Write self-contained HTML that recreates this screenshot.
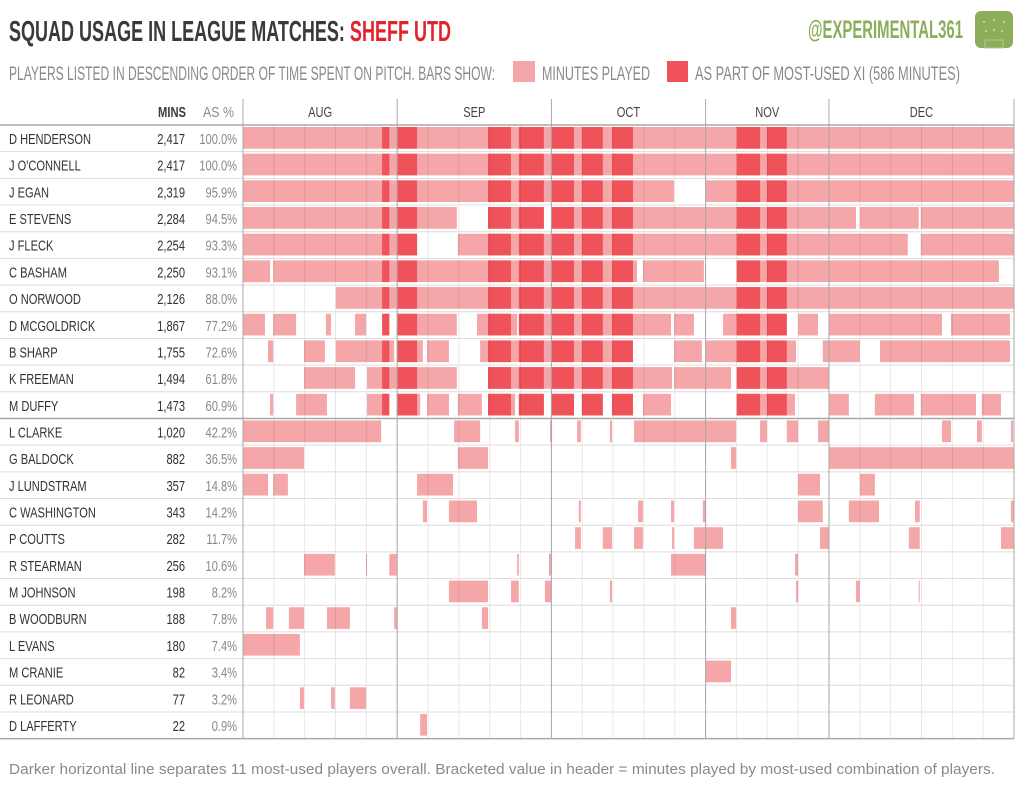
<!DOCTYPE html>
<html><head><meta charset="utf-8"><style>
html,body{margin:0;padding:0;background:#fff;width:1024px;height:789px;overflow:hidden}
svg text{font-family:"Liberation Sans Narrow","Liberation Sans",sans-serif}
</style></head><body>
<svg id="chart" width="1024" height="789" xmlns="http://www.w3.org/2000/svg">
<text x="9" y="41" font-size="29" font-weight="bold" fill="#3a3a3a" textLength="442" lengthAdjust="spacingAndGlyphs">SQUAD USAGE IN LEAGUE MATCHES: <tspan fill="#e3232c">SHEFF UTD</tspan></text>
<text x="9" y="80" font-size="19" fill="#8a8a8a" textLength="486" lengthAdjust="spacingAndGlyphs">PLAYERS LISTED IN DESCENDING ORDER OF TIME SPENT ON PITCH.  BARS SHOW:</text>
<rect x="513" y="61" width="22" height="21" fill="#f4a6a9"/>
<text x="542" y="80" font-size="19" fill="#8a8a8a" textLength="108" lengthAdjust="spacingAndGlyphs">MINUTES PLAYED</text>
<rect x="667" y="61" width="21" height="21" fill="#f0525a"/>
<text x="695" y="80" font-size="19" fill="#8a8a8a" textLength="265" lengthAdjust="spacingAndGlyphs">AS PART OF MOST-USED XI  (586 MINUTES)</text>
<text x="808" y="38" font-size="25" font-weight="bold" fill="#8cad5a" textLength="155" lengthAdjust="spacingAndGlyphs">@EXPERIMENTAL361</text>
<g>
<rect x="975" y="11" width="38" height="37" rx="6" fill="#8cad5a"/>
<rect x="985" y="40" width="18" height="8" fill="none" stroke="#b5cc8e" stroke-width="1"/>
<circle cx="984" cy="22" r="1" fill="#cfe0b0"/><circle cx="994" cy="20" r="1" fill="#cfe0b0"/><circle cx="1004" cy="22" r="1" fill="#cfe0b0"/>
<circle cx="986" cy="31" r="1" fill="#cfe0b0"/><circle cx="1002" cy="31" r="1" fill="#cfe0b0"/><circle cx="994" cy="30" r="1" fill="#cfe0b0"/>
</g>
<text x="158" y="117" font-size="15" font-weight="bold" fill="#3a3a3a" textLength="28" lengthAdjust="spacingAndGlyphs">MINS</text>
<text x="203" y="117" font-size="15" fill="#8a8a8a" textLength="31" lengthAdjust="spacingAndGlyphs">AS %</text>
<g id="bars"></g><g id="grid"></g><g id="labels"></g>
<text x="9" y="774" font-size="15" fill="#8a8a8a" textLength="986" lengthAdjust="spacingAndGlyphs">Darker horizontal line separates 11 most-used players overall.  Bracketed value in header = minutes played by most-used combination of players.</text>
</svg>
<script>
const players=["D HENDERSON","J O'CONNELL","J EGAN","E STEVENS","J FLECK","C BASHAM","O NORWOOD","D MCGOLDRICK","B SHARP","K FREEMAN","M DUFFY","L CLARKE","G BALDOCK","J LUNDSTRAM","C WASHINGTON","P COUTTS","R STEARMAN","M JOHNSON","B WOODBURN","L EVANS","M CRANIE","R LEONARD","D LAFFERTY"];
const minsPlayed=["2,417","2,417","2,319","2,284","2,254","2,250","2,126","1,867","1,755","1,494","1,473","1,020","882","357","343","282","256","198","188","180","82","77","22"];
const pctPlayed=["100.0%","100.0%","95.9%","94.5%","93.3%","93.1%","88.0%","77.2%","72.6%","61.8%","60.9%","42.2%","36.5%","14.8%","14.2%","11.7%","10.6%","8.2%","7.8%","7.4%","3.4%","3.2%","0.9%"];
const months=["AUG","SEP","OCT","NOV","DEC"];
const monthStartMatch=[0,5,10,15,19,25];
const totalMatches=25;
const xiCount=11;
const xiSegments=[[406,427],[449,508],[715,782],[805,878],[899,966],[989,1050],[1077,1138],[1441,1509],[1529,1587]];
const spells=[
[[0,2250]],
[[0,2250]],
[[0,1258],[1351,2250]],
[[0,624],[715,878],[899,1789],[1800,1972],[1978,2250]],
[[0,508],[627,1940],[1978,2250]],
[[0,79],[88,1150],[1167,1345],[1441,2206]],
[[271,2250]],
[[0,64],[88,155],[242,257],[327,359],[406,427],[449,624],[683,800],[805,1249],[1258,1316],[1401,1587],[1620,1678],[1710,2040],[2066,2238]],
[[73,88],[178,239],[271,441],[449,525],[537,601],[692,1138],[1258,1339],[1351,1614],[1692,1800],[1859,2238]],
[[178,327],[362,624],[715,1252],[1258,1424],[1441,1710]],
[[79,88],[155,245],[362,427],[449,517],[537,601],[627,697],[715,794],[805,878],[899,966],[989,1050],[1077,1138],[1167,1249],[1441,1611],[1710,1768],[1844,1958],[1978,2139],[2156,2212]],
[[0,403],[616,692],[794,805],[896,902],[975,986],[1071,1077],[1141,1439],[1509,1529],[1587,1620],[1678,1710],[2040,2066],[2142,2156],[2241,2247]],
[[0,178],[627,715],[1424,1439],[1710,2250]],
[[0,73],[88,131],[508,613],[1620,1684],[1800,1844]],
[[525,537],[601,683],[980,986],[1153,1167],[1249,1258],[1342,1351],[1620,1692],[1768,1856],[1961,1975],[2241,2250]],
[[969,986],[1050,1077],[1141,1167],[1252,1258],[1316,1401],[1684,1710],[1943,1975],[2212,2250]],
[[178,268],[359,362],[427,449],[800,805],[893,899],[1249,1351],[1611,1620]],
[[601,715],[782,805],[881,899],[1071,1077],[1614,1620],[1789,1800],[1972,1975]],
[[67,88],[134,178],[245,312],[441,449],[697,715],[1424,1439]],
[[0,166]],
[[1351,1424]],
[[166,178],[257,268],[312,359]],
[[517,537]]
];
const NS="http://www.w3.org/2000/svg";
const X0=243,X1=1014,TOP=125,RH=26.68,MAXMIN=2250;
const xs=m=>X0+m/MAXMIN*(X1-X0);
const xm=i=>X0+i/totalMatches*(X1-X0);
const rowY=i=>TOP+i*RH;
function mk(tag,attrs,parent){const e=document.createElementNS(NS,tag);for(const k in attrs)e.setAttribute(k,attrs[k]);parent.appendChild(e);return e;}
function narrowText(txt,x,y,size,fill,anchor,parent){
  const t=mk('text',{transform:'translate('+x+','+y+') scale(0.74,1)','font-size':size,fill:fill,'text-anchor':anchor||'start'},parent);
  t.textContent=txt;return t;
}
const grid=document.getElementById('grid'),bars=document.getElementById('bars'),labels=document.getElementById('labels');
const bottom=rowY(players.length);
for(let i=1;i<totalMatches;i++){
  const l=mk('line',{x1:xm(i),x2:xm(i),y1:TOP,y2:bottom,stroke:'rgba(0,0,0,0.09)','stroke-width':1},grid);
  
  
}
for(let i=1;i<players.length;i++){
  const l=mk('line',{x1:0,x2:X1,y1:rowY(i),y2:rowY(i),stroke:i===xiCount?'#a8a8a8':'#dedede','stroke-width':i===xiCount?1.5:1},grid);
  
  
}
players.forEach((p,i)=>{
  const y=rowY(i)+2,h=RH-5;
  spells[i].forEach(s=>{
    const r=mk('rect',{x:xs(s[0]),y:y,width:Math.max(0.8,xs(s[1])-xs(s[0])),height:h,fill:'#f4a6a9'},bars);
    
    
    if(i<xiCount){
      xiSegments.forEach(d=>{
        const a=Math.max(s[0],d[0]),b=Math.min(s[1],d[1]);
        if(b>a){
          const r2=mk('rect',{x:xs(a),y:y,width:xs(b)-xs(a),height:h,fill:'#f0525a'},bars);
          
          
        }
      });
    }
  });
  const base=rowY(i)+19;
  const t=narrowText(p,9,base,15,'#333','start',labels);
  
  
  const t2=narrowText(minsPlayed[i],185,base,15,'#333','end',labels);
  
  
  const t3=narrowText(pctPlayed[i],237,base,15,'#888','end',labels);
  
  
});
monthStartMatch.forEach((m,k)=>{
  const l=mk('line',{x1:xm(m),x2:xm(m),y1:99,y2:bottom,stroke:'#a8a8a8','stroke-width':1},labels);
  
  
  if(k<months.length){
    const c=(xm(m)+xm(monthStartMatch[k+1]))/2;
    const t=narrowText(months[k],c,117,15,'#444','middle',labels);
    
    
  }
});
const hl=mk('line',{x1:0,x2:X1,y1:TOP,y2:TOP,stroke:'#a8a8a8','stroke-width':1.5},labels);


const bl=mk('line',{x1:0,x2:X1,y1:bottom,y2:bottom,stroke:'#a8a8a8','stroke-width':1.5},labels);


</script>
</body></html>
